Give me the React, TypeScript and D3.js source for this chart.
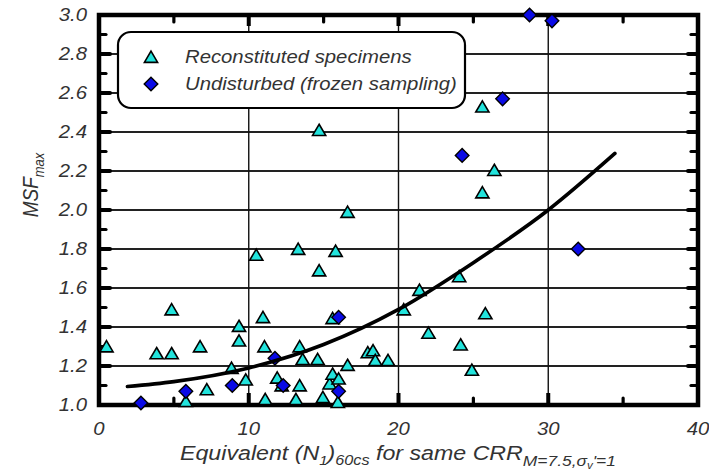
import React from "react";
import * as d3 from "d3";

const reconstituted: [number, number][] = [
  [0.5, 1.3], [3.85, 1.265], [4.85, 1.265], [4.85, 1.49], [5.8, 1.02], [6.75, 1.3],
  [7.2, 1.08], [8.85, 1.19], [9.35, 1.405], [9.35, 1.33], [9.8, 1.13], [10.5, 1.77],
  [10.95, 1.45], [11.05, 1.3], [11.1, 1.03], [11.9, 1.14], [12.2, 1.1], [13.15, 1.03],
  [13.3, 1.8], [13.4, 1.3], [13.4, 1.1], [13.6, 1.235], [14.6, 1.235], [14.7, 1.69],
  [14.7, 2.41], [14.95, 1.04], [15.4, 1.11], [15.6, 1.445], [15.6, 1.16], [15.8, 1.79],
  [16.0, 1.135], [15.95, 1.015], [16.6, 1.99], [16.6, 1.205], [17.95, 1.27], [18.3, 1.28],
  [18.45, 1.23], [19.3, 1.23], [20.35, 1.49], [21.4, 1.59], [22.0, 1.37], [24.05, 1.66],
  [24.15, 1.31], [24.9, 1.18], [25.6, 2.53], [25.6, 2.09], [25.8, 1.47], [26.4, 2.205],
];

const undisturbed: [number, number][] = [
  [2.8, 1.01], [5.8, 1.07], [8.9, 1.1], [11.75, 1.24], [12.3, 1.1], [16.0, 1.45],
  [16.0, 1.07], [24.25, 2.28], [26.95, 2.57], [28.75, 3.0], [30.25, 2.97], [32.0, 1.8],
];

const trendCurve: [number, number][] = [
  [1.9, 1.095], [5, 1.12], [10, 1.19], [15, 1.31], [20, 1.49], [25, 1.73], [30, 2.0], [34.45, 2.29],
];

const xTicks = [0, 10, 20, 30, 40];
const xMinorTicks = [5, 15, 25, 35];
const yTicks = [1.0, 1.2, 1.4, 1.6, 1.8, 2.0, 2.2, 2.4, 2.6, 2.8, 3.0];
const yMinorTicks = [1.1, 1.3, 1.5, 1.7, 1.9, 2.1, 2.3, 2.5, 2.7, 2.9];
const xGrid = [10, 20, 30];
const yGrid = [1.2, 1.4, 1.6, 1.8, 2.0, 2.2, 2.4, 2.6, 2.8];

const FONT = "'Liberation Sans', Arial, sans-serif";
const TXT = "#333";
const SX = 1.16;

export default function App() {
  const W = 709, H = 474;
  const x = d3.scaleLinear().domain([0, 40]).range([99, 698]);
  const y = d3.scaleLinear().domain([1, 3]).range([405, 15]);
  const [xL, xR] = x.range();
  const [yB, yT] = y.range();

  const line = d3.line<[number, number]>()
    .x((d) => x(d[0]))
    .y((d) => y(d[1]))
    .curve(d3.curveMonotoneX);

  const tri = "M0,-5.8L6.6,5.4L-6.6,5.4Z";
  const dia = "M0,-6.8L6.8,0L0,6.8L-6.8,0Z";

  return (
    <div style={{ position: "absolute", left: 0, top: 0 }}>
      <svg width={W} height={H} style={{ display: "block", background: "#fff" }}>
        {/* grid */}
        <g>
          {yGrid.map((v) => (
            <rect key={"gy" + v} x={xL} y={y(v) - 1} width={xR - xL} height={2} fill="#222" />
          ))}
        </g>
        <g>
          {xGrid.map((v) => (
            <rect key={"gx" + v} x={x(v) - 0.7} y={yT} width={1.4} height={yB - yT} fill="#111" />
          ))}
        </g>

        {/* frame */}
        <rect x={xL} y={yT} width={xR - xL} height={yB - yT} fill="none" stroke="#000" strokeWidth={4.5} />

        {/* y ticks left and right */}
        {yTicks.map((v) => (
          <g key={"ty" + v}>
            <path d={`M${xL},${y(v)}H${xL + 11}`} stroke="#000" strokeWidth={4} strokeLinecap="round" />
            <path d={`M${xR},${y(v)}H${xR - 10}`} stroke="#000" strokeWidth={4} strokeLinecap="round" />
          </g>
        ))}
        {yMinorTicks.map((v) => (
          <g key={"tym" + v}>
            <path d={`M${xL},${y(v)}H${xL + 7}`} stroke="#000" strokeWidth={3.2} strokeLinecap="round" />
            <path d={`M${xR},${y(v)}H${xR - 7}`} stroke="#000" strokeWidth={3.2} strokeLinecap="round" />
          </g>
        ))}
        {/* x ticks bottom and top */}
        {xTicks.slice(1, -1).map((v) => (
          <g key={"tx" + v}>
            <path d={`M${x(v)},${yB}V${yB - 12}`} stroke="#000" strokeWidth={4} />
            <path d={`M${x(v)},${yT}V${yT + 11}`} stroke="#000" strokeWidth={4} />
          </g>
        ))}
        {xMinorTicks.map((v) => (
          <g key={"txm" + v}>
            <path d={`M${x(v)},${yB}V${yB - 7}`} stroke="#000" strokeWidth={3.2} strokeLinecap="round" />
            <path d={`M${x(v)},${yT}V${yT + 7}`} stroke="#000" strokeWidth={3.2} strokeLinecap="round" />
          </g>
        ))}

        {/* tick labels */}
        {yTicks.map((v) => (
          <g key={"ly" + v} transform={`translate(87,${y(v)}) scale(${SX},1)`}>
            <text dy="0.36em" textAnchor="end" fontFamily={FONT}
              fontStyle="italic" fontSize={17.5} fill={TXT}>
              {v.toFixed(1)}
            </text>
          </g>
        ))}
        {xTicks.map((v) => (
          <g key={"lx" + v} transform={`translate(${x(v)},435) scale(${SX},1)`}>
            <text textAnchor="middle" fontFamily={FONT}
              fontStyle="italic" fontSize={17.5} fill={TXT}>
              {v}
            </text>
          </g>
        ))}

        {/* markers */}
        {reconstituted.map((d, i) => (
          <path key={"r" + i} d={tri} transform={`translate(${x(d[0])},${y(d[1])})`}
            fill="#22e3dc" stroke="#000" strokeWidth={1.6} strokeLinejoin="miter" />
        ))}
        {undisturbed.map((d, i) => (
          <path key={"u" + i} d={dia} transform={`translate(${x(d[0])},${y(d[1])})`}
            fill="#0a0ae6" stroke="#000" strokeWidth={1.4} />
        ))}

        {/* trend curve */}
        <path d={line(trendCurve) ?? ""} fill="none" stroke="#000" strokeWidth={3.6} strokeLinecap="round" />

        {/* legend */}
        <rect x={118} y={32} width={347} height={76} rx={13} ry={13} fill="#fff" stroke="#000" strokeWidth={2.2} />
        <path d={tri} transform="translate(151,57)" fill="#22e3dc" stroke="#000" strokeWidth={1.6} />
        <path d={dia} transform="translate(151,84)" fill="#0a0ae6" stroke="#000" strokeWidth={1.4} />
        <g transform={`translate(185,57) scale(${SX},1)`}>
          <text dy="0.36em" fontFamily={FONT} fontStyle="italic" fontSize={17.5} fill={TXT}>
            Reconstituted specimens
          </text>
        </g>
        <g transform={`translate(185,84) scale(${SX},1)`}>
          <text dy="0.36em" fontFamily={FONT} fontStyle="italic" fontSize={17.5} fill={TXT}>
            Undisturbed (frozen sampling)
          </text>
        </g>

        {/* axis titles */}
        <g transform={`translate(180,460) scale(${SX},1)`}>
          <text fontFamily={FONT} fontStyle="italic" fontSize={20} fill={TXT}>
            Equivalent (N<tspan fontSize={13} dy={5}>1</tspan>
            <tspan dy={-5}>)</tspan>
            <tspan fontSize={14} dy={5}>60cs</tspan>
            <tspan dy={-5}> for same CRR</tspan>
            <tspan fontSize={15} dy={6}>M=7.5,σ</tspan>
            <tspan fontSize={10} dy={3}>v</tspan>
            <tspan fontSize={15} dy={-3}>'=1</tspan>
          </text>
        </g>
        <g transform="translate(38,185) rotate(-90) scale(1,1.16)">
          <text textAnchor="middle" fontFamily={FONT}
            fontStyle="italic" fontSize={19} fill={TXT}>
            MSF<tspan fontSize={13} dy={5}>max</tspan>
          </text>
        </g>
      </svg>
    </div>
  );
}
